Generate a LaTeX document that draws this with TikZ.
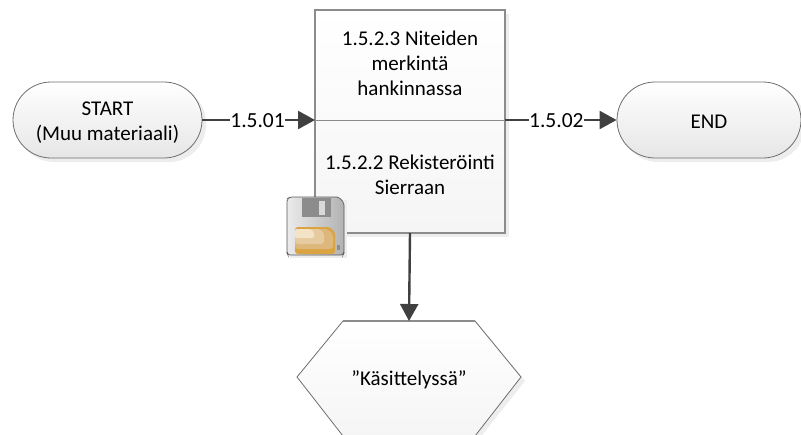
\documentclass[tikz,border=0pt]{standalone}
\usepackage{fontspec}
\setmainfont{Carlito}
\usetikzlibrary{arrows.meta,shapes.misc}
\definecolor{edgeg}{HTML}{6E6E6E}
\definecolor{boxg}{HTML}{8C8C8C}
\definecolor{arrowg}{HTML}{404040}
\definecolor{fillg}{HTML}{F5F5F5}
\definecolor{pillbot}{HTML}{E6E6E6}
\definecolor{shadowg}{HTML}{EDEDED}
\definecolor{foldA}{HTML}{D9A441}
\definecolor{foldB}{HTML}{DDB77C}
\definecolor{foldC}{HTML}{E6CBA0}
\definecolor{foldD}{HTML}{F3E4C8}
\tikzset{
  x=1pt,y=-1pt,
  label text/.style={font=\fontsize{21}{25}\selectfont,text=black,align=center,inner sep=0pt},
  pill/.style={draw=edgeg,line width=0.8pt,top color=white,bottom color=pillbot,rounded rectangle,rounded rectangle arc length=180,minimum height=76pt,inner sep=0pt},
  link/.style={draw=arrowg,line width=2.4pt,-{Triangle[length=17pt,width=18pt]}},
  edge label/.style={font=\fontsize{21.5}{25}\selectfont,text=black,fill=white,inner xsep=0.5pt,inner ysep=1pt},
  blockshadow/.style={fill=shadowg,draw=none},
}
\begin{document}
\begin{tikzpicture}
\useasboundingbox (0,0) rectangle (801,434);
\begin{scope}
\clip (0,0) rectangle (801,434);
% shadows
\fill[blockshadow] (319,14) rectangle (509,237);
\fill[blockshadow,rounded corners=37pt] (17,86) rectangle (206,162);
\fill[blockshadow,rounded corners=37pt] (621,86) rectangle (805,162);
\fill[blockshadow] (347,325) -- (479,325) -- (525,381) -- (479,439) -- (347,439) -- (301,381) -- cycle;
% box
\path[draw=boxg,line width=1.6pt,top color=white,bottom color=fillg] (315,10) rectangle (505,233);
\node[label text] (boxa) at (410,63) {1.5.2.3 Niteiden\\merkintä\\hankinnassa};
\node[label text] (boxb) at (410,175) {1.5.2.2 Rekisteröinti\\Sierraan};
\coordinate (divl) at (315,120);
\coordinate (divr) at (505,120);
\draw[draw=boxg,line width=0.8pt] (divl) -- (divr);
\coordinate (boxbottom) at (410,233);
% terminals
\node[pill,minimum width=189pt] (start) at (107.5,120) {};
\node[label text] at (107.5,123) {START\\(Muu materiaali)};
\node[pill,minimum width=184pt] (end) at (709,120) {};
\node[label text] at (709,122) {END};
% hexagon
\coordinate (hl) at (297,377);
\coordinate (hr) at (521,377);
\coordinate (htop) at (409,321);
\path[draw=edgeg,line width=0.8pt,top color=white,bottom color=fillg] (343,321) -- (475,321) -- (hr) -- (475,436) -- (343,436) -- (hl) -- cycle;
\draw[draw=boxg,line width=1.4pt] (343,321) -- (475,321);
\node[label text] (hex) at (409,380) {”Käsittelyssä”};
% connectors
\draw[link] (start.east) -- (divl) node[edge label,pos=0.49,yshift=-1pt] {1.5.01};
\draw[link] (divr) -- (end.west) node[edge label,pos=0.46,yshift=-1pt] {1.5.02};
\draw[link] (boxbottom) -- (htop);
% floppy icon
\begin{scope}[shift={(287,197)}]
\fill[shadowg] (3,3) rectangle (60,61);
\path[draw=black!65,line width=0.7pt,left color=black!8,right color=black!30,rounded corners=2pt] (0,2) -- (0,56) -- (1,58) -- (56,58) -- (57,56) -- (57,6) -- (52,0) -- (3,0) -- cycle;
\fill[black!45] (15,1) rectangle (44,20);
\fill[black!15] (32,4) rectangle (38,18);
\path[fill=foldA,rounded corners=3pt] (8,30) -- (43,30) -- (48,35) -- (48,57) -- (8,57) -- cycle;
\path[fill=foldB,rounded corners=3pt] (8,32) -- (41,32) -- (46,37) -- (46,52) -- (8,52) -- cycle;
\path[fill=foldC,rounded corners=3pt] (8,32) -- (33,32) -- (37,36) -- (37,47) -- (8,47) -- cycle;
\path[fill=foldD,rounded corners=2pt] (8,32) -- (24,32) -- (27,35) -- (27,41) -- (8,41) -- cycle;
\fill[black!45] (50,48) rectangle (53,53);
\end{scope}
\end{scope}
\end{tikzpicture}
\end{document}
